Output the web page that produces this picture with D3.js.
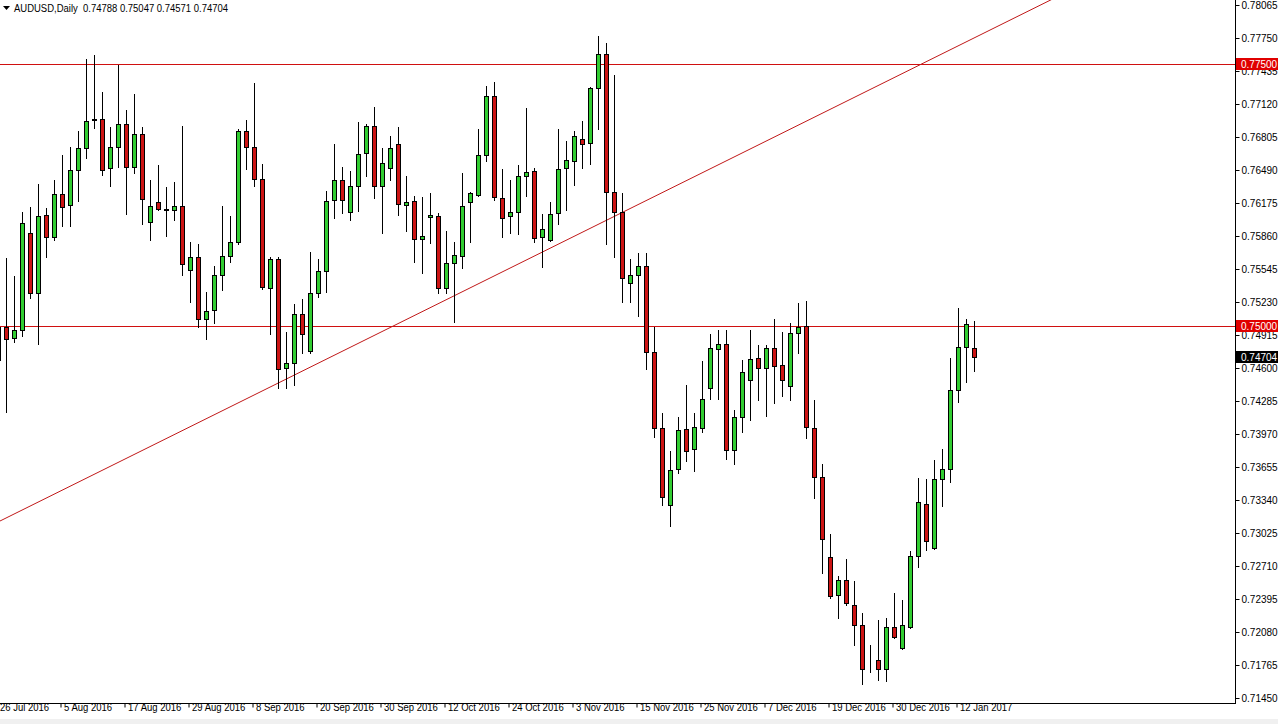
<!DOCTYPE html>
<html><head><meta charset="utf-8">
<script src="https://cdn.jsdelivr.net/npm/d3@7"></script>
<style>html,body{margin:0;padding:0;background:#fff;overflow:hidden}</style>
</head><body><svg id="c" width="1278" height="724"></svg>
<script>
const symbol = "AUDUSD,Daily";
const lastOHLC = [0.74788, 0.75047, 0.74571, 0.74704];
const startDate = "2016-07-26";
const holidays = ["2016-12-26", "2017-01-02"];

const open = [0.7468,0.7499,0.7489,0.7496,0.7589,0.7532,0.7606,0.7585,0.7626,0.7616,
0.7649,0.7670,0.7698,0.7698,0.7651,0.7671,0.7693,0.7652,0.7683,0.7599,
0.7618,0.7612,0.7611,0.7615,0.7554,0.7566,0.7507,0.7515,0.7549,0.7567,
0.7580,0.7686,0.7671,0.7640,0.7536,0.7564,0.7460,0.7465,0.7512,0.7476,
0.7532,0.7553,0.7620,0.7639,0.7609,0.7634,0.7665,0.7691,0.7634,0.7651,
0.7674,0.7616,0.7619,0.7583,0.7604,0.7605,0.7536,0.7560,0.7567,0.7618,
0.7625,0.7663,0.7720,0.7622,0.7605,0.7609,0.7643,0.7648,0.7585,0.7582,
0.7608,0.7651,0.7658,0.7679,0.7675,0.7727,0.7760,0.7628,0.7609,0.7541,
0.7549,0.7557,0.7475,0.7403,0.7329,0.7364,0.7402,0.7383,0.7403,0.7441,
0.7478,0.7483,0.7382,0.7413,0.7449,0.7470,0.7460,0.7479,0.7463,0.7443,
0.7493,0.7500,0.7403,0.7356,0.7280,0.7243,0.7258,0.7234,0.7215,0.7180,
0.7181,0.7173,0.7213,0.7193,0.7213,0.7281,0.7330,0.7288,0.7354,0.7364,
0.7439,0.7480,0.74788];
const high = [0.7505,0.7565,0.7548,0.7609,0.7614,0.7636,0.7613,0.7639,0.7663,0.7671,
0.7686,0.7755,0.7759,0.7723,0.7690,0.7749,0.7706,0.7722,0.7690,0.7639,
0.7654,0.7633,0.7638,0.7691,0.7580,0.7578,0.7533,0.7557,0.7615,0.7605,
0.7688,0.7697,0.7732,0.7655,0.7566,0.7566,0.7494,0.7521,0.7526,0.7571,
0.7564,0.7629,0.7674,0.7652,0.7648,0.7695,0.7693,0.7709,0.7670,0.7681,
0.7690,0.7643,0.7624,0.7623,0.7627,0.7608,0.7591,0.7580,0.7646,0.7628,
0.7688,0.7729,0.7733,0.7650,0.7639,0.7654,0.7708,0.7651,0.7607,0.7618,
0.7688,0.7677,0.7686,0.7696,0.7728,0.7777,0.7770,0.7740,0.7627,0.7564,
0.7570,0.7570,0.7499,0.7417,0.7381,0.7413,0.7444,0.7417,0.7467,0.7492,
0.7496,0.7496,0.7420,0.7468,0.7496,0.7482,0.7482,0.7507,0.7494,0.7503,
0.7522,0.7524,0.7429,0.7368,0.7302,0.7261,0.7278,0.7257,0.7226,0.7196,
0.7219,0.7221,0.7245,0.7239,0.7285,0.7355,0.7354,0.7372,0.7383,0.7470,
0.7517,0.7507,0.75047];
const low = [0.7460,0.7418,0.7485,0.7491,0.7527,0.7483,0.7566,0.7582,0.7596,0.7596,
0.7619,0.7660,0.7689,0.7644,0.7634,0.7652,0.7607,0.7646,0.7597,0.7582,
0.7611,0.7586,0.7601,0.7549,0.7523,0.7499,0.7488,0.7503,0.7534,0.7561,
0.7578,0.7650,0.7634,0.7535,0.7492,0.7441,0.7441,0.7444,0.7474,0.7474,
0.7528,0.7533,0.7603,0.7608,0.7601,0.7610,0.7643,0.7622,0.7589,0.7639,
0.7606,0.7591,0.7561,0.7551,0.7579,0.7532,0.7532,0.7504,0.7555,0.7580,
0.7624,0.7658,0.7620,0.7585,0.7589,0.7588,0.7624,0.7580,0.7556,0.7581,
0.7597,0.7611,0.7635,0.7651,0.7655,0.7688,0.7578,0.7566,0.7523,0.7523,
0.7510,0.7459,0.7394,0.7329,0.7309,0.7360,0.7371,0.7362,0.7399,0.7430,
0.7430,0.7373,0.7368,0.7399,0.7410,0.7429,0.7414,0.7427,0.7433,0.7429,
0.7474,0.7393,0.7336,0.7264,0.7240,0.7221,0.7234,0.7196,0.7158,0.7170,
0.7162,0.7161,0.7202,0.7192,0.7212,0.7270,0.7286,0.7287,0.7328,0.7351,
0.7428,0.7447,0.74571];
const close = [0.7499,0.7488,0.7496,0.7598,0.7532,0.7605,0.7585,0.7626,0.7614,0.7649,
0.7670,0.7696,0.7697,0.7649,0.7671,0.7693,0.7652,0.7683,0.7621,0.7615,
0.7612,0.7611,0.7615,0.7559,0.7566,0.7507,0.7514,0.7549,0.7567,0.7580,
0.7686,0.7671,0.7640,0.7537,0.7564,0.7459,0.7465,0.7512,0.7492,0.7532,
0.7553,0.7619,0.7639,0.7620,0.7634,0.7664,0.7691,0.7634,0.7656,0.7670,
0.7617,0.7618,0.7583,0.7586,0.7606,0.7536,0.7560,0.7568,0.7615,0.7627,
0.7663,0.7720,0.7623,0.7603,0.7609,0.7643,0.7647,0.7584,0.7593,0.7607,
0.7650,0.7659,0.7681,0.7674,0.7727,0.7760,0.7628,0.7609,0.7546,0.7549,
0.7557,0.7475,0.7403,0.7337,0.7363,0.7401,0.7381,0.7404,0.7430,0.7479,
0.7483,0.7382,0.7413,0.7456,0.7469,0.7460,0.7479,0.7462,0.7449,0.7493,
0.7499,0.7404,0.7356,0.7297,0.7242,0.7258,0.7236,0.7215,0.7173,0.7180,
0.7173,0.7213,0.7203,0.7215,0.7281,0.7332,0.7295,0.7354,0.7364,0.7439,
0.7480,0.7502,0.74704];

const priceTicks = [0.78065,0.77750,0.77435,0.77120,0.76805,0.76490,0.76175,0.75860,0.75545,0.75230,
0.74915,0.74600,0.74285,0.73970,0.73655,0.73340,0.73025,0.72710,0.72395,0.72080,0.71765,0.71450];
const dateTickLabels = ["26 Jul 2016","5 Aug 2016","17 Aug 2016","29 Aug 2016","8 Sep 2016","20 Sep 2016",
"30 Sep 2016","12 Oct 2016","24 Oct 2016","3 Nov 2016","15 Nov 2016","25 Nov 2016","7 Dec 2016",
"19 Dec 2016","30 Dec 2016","12 Jan 2017"];
const levels = [0.775, 0.750];
const trendAnchors = [{date: "2016-07-26", price: 0.7313}, {date: "2017-01-16", price: 0.7775}];

// trading calendar (weekdays, minus holidays)
const parse = d3.utcParse("%Y-%m-%d"), iso = d3.utcFormat("%Y-%m-%d"), lab = d3.utcFormat("%-d %b %Y");
const dates = [];
for (let d = parse(startDate); dates.length < open.length; d = d3.utcDay.offset(d, 1)) {
  const wd = d.getUTCDay();
  if (wd === 0 || wd === 6 || holidays.includes(iso(d))) continue;
  dates.push(iso(d));
}
const bars = dates.map((d, i) => ({date: d, o: open[i], h: high[i], l: low[i], c: close[i]}));

const W = 1278, H = 724, plotR = 1235, plotB = 703;
const FONT = '"Liberation Sans", Arial, sans-serif';
const svg = d3.select("#c");
svg.append("rect").attr("width", W).attr("height", H).attr("fill", "#fff");
svg.append("rect").attr("x", 0).attr("y", 719).attr("width", W).attr("height", 5).attr("fill", "#f0f0f0");

const x = d3.scalePoint().domain(dates).range([-2, 974]);
const y = d3.scaleLinear().domain([0.71450, 0.78065]).range([698, 5]);

svg.append("defs").append("clipPath").attr("id", "pc")
  .append("rect").attr("x", 0).attr("y", 0).attr("width", plotR).attr("height", plotB);
const plot = svg.append("g").attr("clip-path", "url(#pc)");

// horizontal levels
plot.selectAll("line.lvl").data(levels).join("line").attr("class", "lvl")
  .attr("x1", 0).attr("x2", plotR)
  .attr("y1", d => Math.round(y(d)) + 0.5).attr("y2", d => Math.round(y(d)) + 0.5)
  .attr("stroke", "#d01010").attr("stroke-width", 1);

// trend ray
const p1 = [x(trendAnchors[0].date), y(trendAnchors[0].price)];
const p2 = [x(trendAnchors[1].date), y(trendAnchors[1].price)];
const slope = (p2[1] - p1[1]) / (p2[0] - p1[0]);
plot.append("line")
  .attr("x1", -10).attr("y1", p1[1] + slope * (-10 - p1[0]))
  .attr("x2", plotR).attr("y2", p1[1] + slope * (plotR - p1[0]))
  .attr("stroke", "#c01818").attr("stroke-width", 1);

// candles
const cg = plot.selectAll("g.bar").data(bars).join("g").attr("class", "bar");
cg.append("line")
  .attr("x1", d => x(d.date) + 0.5).attr("x2", d => x(d.date) + 0.5)
  .attr("y1", d => Math.round(y(d.h))).attr("y2", d => Math.round(y(d.l)) + 1)
  .attr("stroke", "#000").attr("stroke-width", 1);
cg.append("rect")
  .attr("x", d => x(d.date) - 1.5)
  .attr("y", d => Math.round(y(Math.max(d.o, d.c))) + 0.5)
  .attr("width", 4)
  .attr("height", d => Math.max(0, Math.round(y(Math.min(d.o, d.c))) - Math.round(y(Math.max(d.o, d.c)))))
  .attr("fill", d => d.c > d.o ? "#32cd32" : (d.c < d.o ? "#cc1414" : "#000"))
  .attr("stroke", "#000").attr("stroke-width", 1);

// frame
svg.append("line").attr("x1", plotR + 0.5).attr("x2", plotR + 0.5).attr("y1", 0).attr("y2", plotB + 1)
  .attr("stroke", "#000");
svg.append("line").attr("x1", 0).attr("x2", plotR + 1).attr("y1", plotB + 0.5).attr("y2", plotB + 0.5)
  .attr("stroke", "#000");

// price axis
const ya = svg.append("g").attr("transform", `translate(${plotR + 0.5},0)`)
  .call(d3.axisRight(y).tickValues(priceTicks).tickSize(4).tickSizeOuter(0).tickPadding(2)
    .tickFormat(d3.format(".5f")));
ya.select(".domain").remove();
ya.selectAll("text").attr("font-family", FONT).attr("font-size", 10).attr("fill", "#000");
ya.selectAll("line").attr("stroke", "#000");

// date axis
const tickDates = dates.filter(d => dateTickLabels.includes(lab(parse(d))));
const xa = svg.append("g").attr("transform", `translate(-1.5,${plotB + 0.5})`)
  .call(d3.axisBottom(x).tickValues(tickDates).tickSize(4).tickSizeOuter(0).tickPadding(0)
    .tickFormat(d => lab(parse(d))));
xa.select(".domain").remove();
xa.selectAll("line").attr("stroke", "#000");
xa.selectAll("text").attr("font-family", FONT).attr("font-size", 10).attr("fill", "#000")
  .attr("text-anchor", "start").attr("dx", 3).attr("dy", "0.3em").attr("y", 4)
  .attr("textLength", function() { return this.getComputedTextLength() * 0.95; })
  .attr("lengthAdjust", "spacingAndGlyphs");

// price labels on axis
function tag(v, bg) {
  const yy = Math.round(y(v));
  svg.append("rect").attr("x", plotR + 1).attr("y", yy - 6).attr("width", W - plotR - 1).attr("height", 12).attr("fill", bg);
  svg.append("text").attr("x", plotR + 6).attr("y", yy).attr("dy", "0.35em")
    .attr("font-family", FONT).attr("font-size", 10).attr("fill", "#fff").text(d3.format(".5f")(v));
}
levels.forEach(v => tag(v, "#e00000"));
tag(lastOHLC[3], "#000");

// header
svg.append("path").attr("d", "M3,6 L10,6 L6.5,10 Z").attr("fill", "#000");
svg.append("text").attr("x", 14).attr("y", 8).attr("dy", "0.35em")
  .attr("font-family", FONT).attr("font-size", 10).attr("fill", "#000")
  .attr("xml:space", "preserve")
  .attr("textLength", 214).attr("lengthAdjust", "spacingAndGlyphs")
  .text(symbol + "  " + lastOHLC.map(d3.format(".5f")).join(" "));
</script></body></html>
